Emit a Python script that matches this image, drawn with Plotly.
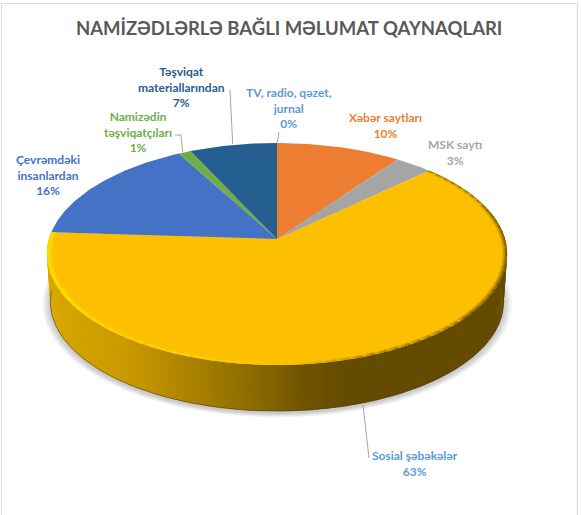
import numpy as np
import plotly.graph_objects as go

# Chart data
categories = ["TV, radio, qəzet,<br>jurnal", "Xəbər saytları", "MSK saytı", "Sosial şəbəkələr",
              "Çevrəmdəki<br>insanlardan", "Namizədin<br>təşviqatçıları", "Təşviqat<br>materiallarından"]
values = [0, 10, 3, 63, 16, 1, 7]
title_text = "NAMİZƏDLƏRLƏ BAĞLI MƏLUMAT QAYNAQLARI"

slice_colors = ["#5B9BD5", "#ED7D31", "#A5A5A5", "#FDC000", "#4472C4", "#70AD47", "#255E91"]
label_colors = ["#5B9BD5", "#ED7D31", "#A5A5A5", "#5B9BD5", "#4472C4", "#70AD47", "#255E91"]
# label centres in page pixels
label_x = [289, 385, 455, 415, 48, 138, 181]
label_y = [108, 125, 152, 463, 175, 132, 87]
# leader lines in page pixels
leaders = [
    ([279, 277.3], [132, 142.7]),
    ([363, 369], [405, 458]),
    ([175, 181, 182.7], [135, 135, 152]),
    ([230, 232.7], [90, 144]),
]

# Perspective of the disc: page pixels, apex of the top face at (CX, Y_TOP)
CX, Y_TOP, Y_BOTTOM = 277, 239, 287
A, B, K = 228, 109, 0.135
BOTTOM_SCALE = 0.985


def rim(phi, scale=1.0, y0=Y_TOP):
    u, v = np.sin(phi), np.cos(phi)
    w = 1 + K * v
    return CX + scale * A * u / w, y0 - scale * B * v / w


def arc(start, end):
    n = max(2, int(np.degrees(end - start)) + 2)
    return np.linspace(start, end, n)


def poly(x, y, color, name=None):
    # one filled polygon in page pixels
    return go.Scatter(x=list(x), y=list(y), mode="lines", fill="toself", fillcolor=color,
                      line=dict(width=0), showlegend=False,
                      hoverinfo="skip" if name is None else "text", text=name)


def mix(c0, c1, t):
    return tuple(a + (b - a) * t for a, b in zip(c0, c1))


def rgb(c):
    return "rgb(%d,%d,%d)" % tuple(round(v) for v in c)


def side_color(x):
    # horizontal gradient of the outer wall
    xs = [46, 65, 130, 200, 270, 300, 345, 510]
    rs = [218, 212, 200, 165, 130, 112, 100, 100]
    gs = [168, 164, 152, 125, 100, 85, 75, 75]
    return rgb((np.interp(x, xs, rs), np.interp(x, xs, gs), 0))


def bevel_color(x, t):
    # t = 0 at the inside of the bevel, 1 at the rim
    top = (253, 192, 0)
    if x < 290:
        fade = min(1, (290 - x) / 110) * min(1, t * 2.2) * (1 - 0.35 * max(0, t - 0.6) / 0.4)
        return rgb(mix(top, (255, 222, 0), fade))
    fade = min(1, (x - 290) / 70) * t
    return rgb(mix(top, (104, 78, 0), fade))


fig = go.Figure()

total = sum(values)
edges = 2 * np.pi * np.cumsum([0] + values) / total
big = int(np.argmax(values))
wall_from, wall_to = edges[big], edges[big + 1]

# Soft shadow under the disc
for s in np.linspace(1.036, 1.004, 7):
    p = arc(0, 2 * np.pi)
    x, y = rim(p, BOTTOM_SCALE * s, Y_BOTTOM + 2)
    fig.add_trace(poly(x, y, "rgba(0,0,0,0.03)"))

# Outer wall, strip by strip
step = np.radians(1)
for p0 in np.arange(wall_from, wall_to, step):
    p = np.array([p0, min(p0 + step * 1.6, wall_to)])
    xt, yt = rim(p)
    xb, yb = rim(p, BOTTOM_SCALE, Y_BOTTOM)
    fig.add_trace(poly(np.r_[xt, xb[::-1]], np.r_[yt, yb[::-1]], side_color(xt.mean())))

# Dark lower edge of the wall
p = arc(np.radians(92), np.radians(268))
x, y = rim(p, BOTTOM_SCALE, Y_BOTTOM)
fig.add_trace(go.Scatter(x=x, y=y, mode="lines", line=dict(color="rgba(70,52,0,0.55)", width=1),
                         showlegend=False, hoverinfo="skip"))

# Top face slices
for i, val in enumerate(values):
    if val == 0:
        continue
    x, y = rim(arc(edges[i], edges[i + 1]))
    fig.add_trace(poly(np.r_[CX, x, CX], np.r_[Y_TOP, y, Y_TOP], slice_colors[i],
                       categories[i].replace("<br>", " ") + ": %d%%" % val))

# Bevel along the rim of the largest slice
rings = np.linspace(0.978, 1.0, 6)
step = np.radians(3)
for p0 in np.arange(wall_from, wall_to, step):
    p = np.array([p0, min(p0 + step * 1.3, wall_to)])
    for j in range(len(rings) - 1):
        xo, yo = rim(p, rings[j + 1])
        xi, yi = rim(p, rings[j])
        col = bevel_color(xo.mean(), (j + 0.5) / (len(rings) - 1))
        fig.add_trace(poly(np.r_[xi, xo[::-1]], np.r_[yi, yo[::-1]], col))

# Leader lines
for lx, ly in leaders:
    fig.add_trace(go.Scatter(x=lx, y=ly, mode="lines", line=dict(color="#A6A6A6", width=1),
                             showlegend=False, hoverinfo="skip"))

# Data labels
for i, cat in enumerate(categories):
    fig.add_annotation(x=label_x[i], y=label_y[i],
                       text="<b>%s<br>%d%%</b>" % (cat.replace("<br>", "</b><br><b>"), values[i]),
                       showarrow=False, align="center", xanchor="center", yanchor="middle",
                       font=dict(family="Lato", size=12, color=label_colors[i]))

fig.add_annotation(x=289, y=28, text="<b>%s</b>" % title_text, showarrow=False,
                   font=dict(family="Lato", size=18.5, color="#595959"))

# Chart frame, open at the bottom of the page
fig.add_shape(type="rect", x0=1.5, y0=3.5, x1=577.5, y1=530,
              line=dict(color="#D9D9D9", width=1), fillcolor="rgba(0,0,0,0)", layer="below")

fig.update_layout(
    width=581, height=515,
    margin=dict(l=0, r=0, t=0, b=0),
    paper_bgcolor="white", plot_bgcolor="white",
    showlegend=False,
    xaxis=dict(range=[0, 581], visible=False, fixedrange=True),
    yaxis=dict(range=[515, 0], visible=False, fixedrange=True),
)

fig.write_html("out.html", config=dict(displayModeBar=False),
               post_script="document.body.style.margin='0';document.body.style.overflow='hidden';")
